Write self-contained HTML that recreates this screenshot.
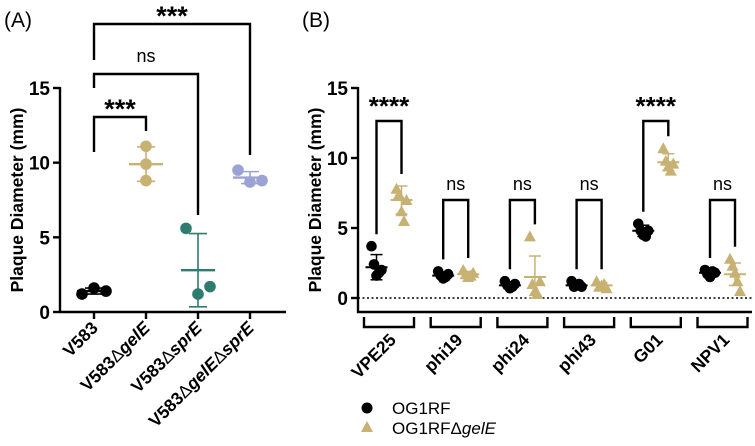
<!DOCTYPE html>
<html><head><meta charset="utf-8"><style>
body{margin:0;background:#fff;width:755px;height:441px;overflow:hidden}
svg{font-family:"Liberation Sans",Arial,sans-serif}
</style></head><body>
<svg id="chart" width="755" height="441" viewBox="0 0 755 441"></svg>
<script>
// Panel A data
const catsA = ["V583","V583ΔgelE","V583ΔsprE","V583ΔgelEΔsprE"];
const ptsA = [[1.2,1.6,1.4],[11.1,9.9,8.8],[5.6,1.2,1.7],[9.5,8.7,8.8]];
const meanA = [1.4,9.9,2.8,9.0];
const sdA = [0.2,1.15,2.45,0.4];
const colorsA = ["#000","#c8b273","#2e7b6f","#9aa3d4"];
const ticksA = [0,5,10,15];
// Panel B data
const catsB = ["VPE25","phi19","phi24","phi43","G01","NPV1"];
const ptsB1 = [[3.7,2.4,1.6,1.8,2.0],[1.9,1.6,1.4,1.5,1.7],[1.2,0.9,0.7,0.8,1.0],[1.2,0.8,0.9,1.0,0.8],[5.3,4.8,4.5,4.4,4.8],[2.0,1.7,1.5,1.9,1.8]];
const ptsB2 = [[7.8,7.4,6.2,5.5,7.0],[2.0,1.7,1.5,1.6,1.8],[4.4,1.0,0.5,0.3,1.2],[1.2,0.8,0.9,1.0,0.7],[10.7,9.8,9.4,9.1,9.6],[2.8,2.3,1.8,1.2,0.5]];
const meanB1 = [2.2,1.6,0.9,0.9,4.8,1.8];
const meanB2 = [7.0,1.7,1.5,0.9,9.7,1.7];
const sdB1 = [0.9,0.2,0.2,0.2,0.4,0.2];
const sdB2 = [1.0,0.2,1.5,0.2,0.6,0.8];
const sigB = ["****","ns","ns","ns","****","ns"];
const ticksB = [0,5,10,15];

const svg = document.getElementById('chart');
const NS = "http://www.w3.org/2000/svg";
function mk(tag, attrs, parent){const e=document.createElementNS(NS,tag);for(const k in attrs)e.setAttribute(k,attrs[k]);(parent||svg).appendChild(e);return e;}
function line(x1,y1,x2,y2,c,w,p){return mk('line',{x1,y1,x2,y2,stroke:c||'#000','stroke-width':w||2.2},p);}
function txt(x,y,s,attrs,p){const t=mk('text',Object.assign({x,y},attrs),p);t.textContent=s;return t;}

// ---------- Panel A ----------
const yA = v => 312 - v*224/15;
const xA = i => 94 + i*52;
const gA = mk('g',{});  
txt(4,27,"(A)",{'font-size':21},gA);
line(60,87,60,313,'#000',2.4,gA);
line(59,312,286,312,'#000',2.4,gA);
ticksA.forEach(t=>{line(53,yA(t),60,yA(t),'#000',2.4,gA);
  const l=txt(50,yA(t)+7,String(t),{'font-size':19,'font-weight':'bold','text-anchor':'end'},gA);
  });
const ytA=txt(0,0,"Plaque Diameter (mm)",{'font-size':17.5,'font-weight':'bold','text-anchor':'middle',transform:'translate(23,200) rotate(-90)'},gA);

catsA.forEach((c,i)=>{
  const x=xA(i);
  line(x,312,x,319,'#000',2.4,gA);
  const t=mk('text',{transform:`translate(${x+5},${329}) rotate(-45)`,'font-size':17.5,'font-weight':'bold','text-anchor':'end'},gA);
  
  c.split(/(Δ)/).forEach(part=>{const s=mk('tspan',{},t);s.textContent=part;if(part==='gelE'||part==='sprE')s.setAttribute('font-style','italic');if(part==='Δ')s.setAttribute('font-weight','normal');});
  const col=colorsA[i];
  const g=mk('g',{},gA);
  const spread = i===1?0:12;
  ptsA[i].forEach((v,j)=>{const d=mk('circle',{cx:x+(j-1)*spread,cy:yA(v),r:5.8,fill:col},g);});
  line(x-17,yA(meanA[i]),x+17,yA(meanA[i]),col,2.4,g);
  line(x,yA(meanA[i]+sdA[i]),x,yA(meanA[i]-sdA[i]),col,1.6,g);
  line(x-9,yA(meanA[i]+sdA[i]),x+9,yA(meanA[i]+sdA[i]),col,1.6,g);
  line(x-9,yA(meanA[i]-sdA[i]),x+9,yA(meanA[i]-sdA[i]),col,1.6,g);
});
// brackets A
const brA=[[0,3,24,60,155,"***"],[0,2,74,88,215,"ns"],[0,1,117,152,131,"***"]];
brA.forEach(b=>{const x1=xA(b[0]),x2=xA(b[1]);
  const p=mk('polyline',{points:`${x1},${b[3]} ${x1},${b[2]} ${x2},${b[2]} ${x2},${b[4]}`,fill:'none',stroke:'#000','stroke-width':2.4},gA);
  
  const star=b[5]!=='ns';
  txt((x1+x2)/2,b[2]-(star?-1:12),b[5],{'font-size':star?27:18,'font-weight':star?'bold':'normal','text-anchor':'middle'},gA);
});

// ---------- Panel B ----------
const yB = v => 298 - v*210/15;
const xB = i => 389 + i*66.7;
const gB = mk('g',{});  
txt(302,27,"(B)",{'font-size':21},gB);
line(358,87,358,313,'#000',2.4,gB);
line(357,312,752,312,'#000',2.4,gB);
line(358,yB(0),752,yB(0),'#000',1.5,gB).setAttribute('stroke-dasharray','2,2.5');
ticksB.forEach(t=>{line(351,yB(t),358,yB(t),'#000',2.4,gB);
  const l=txt(348,yB(t)+7,String(t),{'font-size':19,'font-weight':'bold','text-anchor':'end'},gB);
  });
const ytB=txt(0,0,"Plaque Diameter (mm)",{'font-size':17.5,'font-weight':'bold','text-anchor':'middle',transform:'translate(321,200) rotate(-90)'},gB);

const tan="#c8b273";
function tri(cx,cy,g){const p=mk('polygon',{points:`${cx},${cy-6} ${cx-6},${cy+5} ${cx+6},${cy+5}`,fill:tan},g);}
catsB.forEach((c,i)=>{
  const xc=xB(i), x1=xc-12.5, x2=xc+12.5;
  const gr=mk('polyline',{points:`${xc-25},317 ${xc-25},327 ${xc+25},327 ${xc+25},317`,fill:'none',stroke:'#000','stroke-width':2.4},gB);
  
  const t=txt(0,0,c,{transform:`translate(${xc+8},${341}) rotate(-45)`,'font-size':17.5,'font-weight':'bold','text-anchor':'end'},gB);
  
  const g=mk('g',{},gB);
  ptsB1[i].forEach((v,j)=>{const d=mk('circle',{cx:x1+(j-2)*2.5,cy:yB(v),r:5.3,fill:'#000'},g);});
  ptsB2[i].forEach((v,j)=>tri(x2+(j-2)*2.5,yB(v),g));
  [[x1,meanB1[i],sdB1[i],'#000'],[x2,meanB2[i],sdB2[i],tan]].forEach(s=>{
    line(s[0]-11,yB(s[1]),s[0]+11,yB(s[1]),s[3],2,g);
    line(s[0],yB(s[1]+s[2]),s[0],yB(s[1]-s[2]),s[3],1.5,g);
    line(s[0]-6,yB(s[1]+s[2]),s[0]+6,yB(s[1]+s[2]),s[3],1.5,g);
    line(s[0]-6,yB(s[1]-s[2]),s[0]+6,yB(s[1]-s[2]),s[3],1.5,g);
  });
  const star=sigB[i]!=='ns';
  const top=star?121:200;
  const l1=yB(Math.max(...ptsB1[i],meanB1[i]+sdB1[i]))-12;
  const l2=yB(Math.max(...ptsB2[i],meanB2[i]+sdB2[i]))-12;
  const br=mk('polyline',{points:`${x1},${l1} ${x1},${top} ${x2},${top} ${x2},${l2}`,fill:'none',stroke:'#000','stroke-width':2.4},g);
  
  txt(xc,star?115:190,sigB[i],{'font-size':star?26:18,'font-weight':star?'bold':'normal','text-anchor':'middle'},g);
});
// legend
const lg=mk('g',{});
mk('circle',{cx:367,cy:408,r:5.5,fill:'#000'},lg);
txt(392,414,"OG1RF",{'font-size':17},lg);
tri(367,427,lg);
const t2=txt(392,434,"OG1RFΔ",{'font-size':17},lg);
const it=mk('tspan',{'font-style':'italic'},t2);it.textContent="gelE";
</script>
</body></html>
